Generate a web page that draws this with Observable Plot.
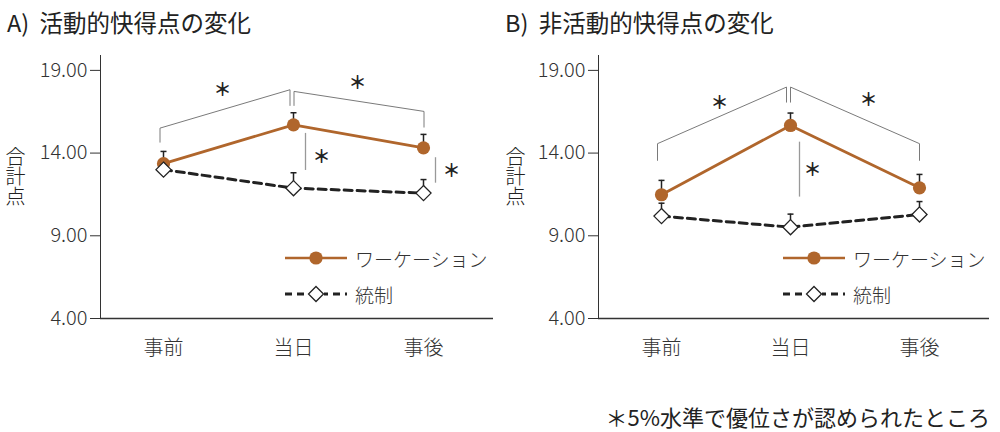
<!DOCTYPE html>
<html><head><meta charset="utf-8">
<script src="https://cdn.jsdelivr.net/npm/d3@7"></script>
<script src="https://cdn.jsdelivr.net/npm/@observablehq/plot@0.6"></script>
<style>
body{margin:0;background:#fff;font-family:"Noto Sans CJK JP",sans-serif;font-weight:300;color:#222;}
#wrap{position:relative;width:1000px;height:432px;overflow:hidden;}
.panel{position:absolute;top:0;width:500px;height:380px;}
.panel svg{display:block;}
.title{height:40px;line-height:44px;font-size:23.5px;font-weight:400;word-spacing:5px;white-space:nowrap;color:#222;}
.ylab{position:absolute;left:5px;top:146px;writing-mode:vertical-rl;font-size:20px;line-height:20px;color:#222;}
.leg{position:absolute;height:24px;display:flex;align-items:center;font-size:19px;color:#333;white-space:nowrap;}
.leg svg{margin-right:8px;}
.note{position:absolute;right:10px;top:402px;font-size:22px;font-weight:400;line-height:28px;color:#222;}
</style></head><body>
<div id="wrap"></div>
<script>
// ---- data ----
const categories = ["事前", "当日", "事後"];
const seriesLabels = ["ワーケーション", "統制"];
const panelTitles = ["A) 活動的快得点の変化", "B) 非活動的快得点の変化"];
const yTicks = [4, 9, 14, 19];
const yLabel = "合計点";
const footnote = "＊5%水準で優位さが認められたところ";

const activeWork = [13.36, 15.71, 14.32];
const activeWorkSE = [0.74, 0.73, 0.81];
const activeCtrl = [13.00, 11.88, 11.58];
const activeCtrlSE = [0.50, 0.93, 0.82];
const passiveWork = [11.48, 15.67, 11.90];
const passiveWorkSE = [0.87, 0.75, 0.81];
const passiveCtrl = [10.19, 9.52, 10.29];
const passiveCtrlSE = [0.78, 0.79, 0.78];

// significance annotations (values in score units)
const activeBrackets = [
  {from: "事前", to: "当日", fromLow: 14.66, fromHigh: 15.51, toHigh: 17.83, toLow: 16.88, star: 17.79},
  {from: "当日", to: "事後", fromLow: 16.88, fromHigh: 17.73, toHigh: 16.52, toLow: 15.57, star: 18.20}
];
const activeBetween = [
  {at: "当日", low: 12.95, high: 15.19, star: 13.76},
  {at: "事後", low: 12.18, high: 13.72, star: 12.91}
];
const passiveBrackets = [
  {from: "事前", to: "当日", fromLow: 13.56, fromHigh: 14.57, toHigh: 17.99, toLow: 17.08, star: 16.99},
  {from: "当日", to: "事後", fromLow: 17.08, fromHigh: 17.99, toHigh: 14.57, toLow: 13.56, star: 17.19}
];
const passiveBetween = [
  {at: "当日", low: 11.34, high: 14.66, star: 12.95}
];

// ---- drawing ----
const ORANGE = "#b0662c";
const INK = "#222";
const capSymbol = {draw(ctx, size) { const w = Math.sqrt(size / Math.PI); ctx.moveTo(-w, 0); ctx.lineTo(w, 0); }};

const panels = [
  {title: panelTitles[0], work: activeWork, workSE: activeWorkSE, ctrl: activeCtrl, ctrlSE: activeCtrlSE,
   brackets: activeBrackets, between: activeBetween, left: 0,
   mL: 100, mR: 7, bracketDx: [-3.5, 0.5], starDx: [59, 64], betweenDx: 12, betweenStarDx: 28},
  {title: panelTitles[1], work: passiveWork, workSE: passiveWorkSE, ctrl: passiveCtrl, ctrlSE: passiveCtrlSE,
   brackets: passiveBrackets, between: passiveBetween, left: 500,
   mL: 98, mR: 11, bracketDx: [-4, 0], starDx: [58, 78], betweenDx: 9, betweenStarDx: 22}
];

const wrap = document.getElementById("wrap");

for (const p of panels) {
  const work = categories.map((c, i) => ({cat: c, v: p.work[i], se: p.workSE[i]}));
  const ctrl = categories.map((c, i) => ({cat: c, v: p.ctrl[i], se: p.ctrlSE[i]}));
  const all = work.concat(ctrl);

  const marks = [
    Plot.ruleY([4], {stroke: "#333", strokeWidth: 1.5})
  ];
  p.brackets.forEach((b, i) => {
    const pts = [
      {cat: b.from, v: b.fromLow}, {cat: b.from, v: b.fromHigh},
      {cat: b.to, v: b.toHigh}, {cat: b.to, v: b.toLow}
    ];
    marks.push(Plot.line(pts, {x: "cat", y: "v", stroke: "#7a7a7a", strokeWidth: 1, dx: p.bracketDx[i]}));
    marks.push(Plot.text([b], {x: "from", y: "star", text: () => "＊", dx: p.starDx[i], fontSize: 18, fontWeight: "bold", fill: INK}));
  });
  marks.push(Plot.ruleX(p.between, {x: "at", y1: "low", y2: "high", stroke: "#999", strokeWidth: 1.3, dx: p.betweenDx}));
  marks.push(Plot.text(p.between, {x: "at", y: "star", text: () => "＊", dx: p.betweenStarDx, fontSize: 18, fontWeight: "bold", fill: INK}));
  marks.push(Plot.ruleX(all, {x: "cat", y1: "v", y2: d => d.v + d.se, stroke: INK, strokeWidth: 1.5}));
  marks.push(Plot.dot(all, {x: "cat", y: d => d.v + d.se, symbol: capSymbol, r: 3, stroke: INK, strokeWidth: 1.5}));
  marks.push(Plot.line(work, {x: "cat", y: "v", stroke: ORANGE, strokeWidth: 2.8}));
  marks.push(Plot.dot(work, {x: "cat", y: "v", r: 6.6, fill: ORANGE}));
  marks.push(Plot.line(ctrl, {x: "cat", y: "v", stroke: INK, strokeWidth: 3, strokeDasharray: "8,5"}));
  marks.push(Plot.dot(ctrl, {x: "cat", y: "v", symbol: "diamond2", r: 6.8, fill: "white", stroke: INK, strokeWidth: 1.3}));

  const chart = Plot.plot({
    width: 500, height: 340,
    marginTop: 15, marginBottom: 62, marginLeft: p.mL, marginRight: p.mR,
    style: {fontFamily: '"Noto Sans CJK JP", sans-serif', fontWeight: 300, fontSize: "20px", color: "#333", background: "transparent", overflow: "visible"},
    x: {type: "point", domain: categories, padding: 0.51, align: 0.475, tickSize: 0, tickPadding: 22, label: null},
    y: {domain: [4, 19.9], ticks: yTicks, tickFormat: d => d.toFixed(2), tickSize: 10, tickPadding: 3, line: true, label: null},
    marks
  });

  const panel = document.createElement("div");
  panel.className = "panel";
  panel.style.left = p.left + "px";
  const t = document.createElement("div");
  t.className = "title";
  t.style.paddingLeft = (p.left ? 5 : 7) + "px";
  t.textContent = p.title;
  panel.appendChild(t);
  panel.appendChild(chart);
  const yl = document.createElement("div");
  yl.className = "ylab";
  yl.textContent = yLabel;
  panel.appendChild(yl);

  // legend
  const legLeft = p.left ? 283 : 285;
  const rows = [
    {y: 246, label: seriesLabels[0],
     sw: `<svg width="62" height="20"><line x1="0" x2="62" y1="10" y2="10" stroke="${ORANGE}" stroke-width="2.5"/><circle cx="31" cy="10" r="6.6" fill="${ORANGE}"/></svg>`},
    {y: 282, label: seriesLabels[1],
     sw: `<svg width="62" height="20"><line x1="0" x2="62" y1="10" y2="10" stroke="${INK}" stroke-width="3" stroke-dasharray="7,5"/><rect x="23" y="2" width="16" height="16" fill="white"/><polygon points="31,2.5 38.5,10 31,17.5 23.5,10" fill="white" stroke="${INK}" stroke-width="1.3"/></svg>`}
  ];
  for (const r of rows) {
    const d = document.createElement("div");
    d.className = "leg";
    d.style.left = legLeft + "px";
    d.style.top = r.y + "px";
    d.innerHTML = r.sw + "<span>" + r.label + "</span>";
    panel.appendChild(d);
  }
  wrap.appendChild(panel);
}

const note = document.createElement("div");
note.className = "note";
note.textContent = footnote;
wrap.appendChild(note);
</script>
</body></html>
